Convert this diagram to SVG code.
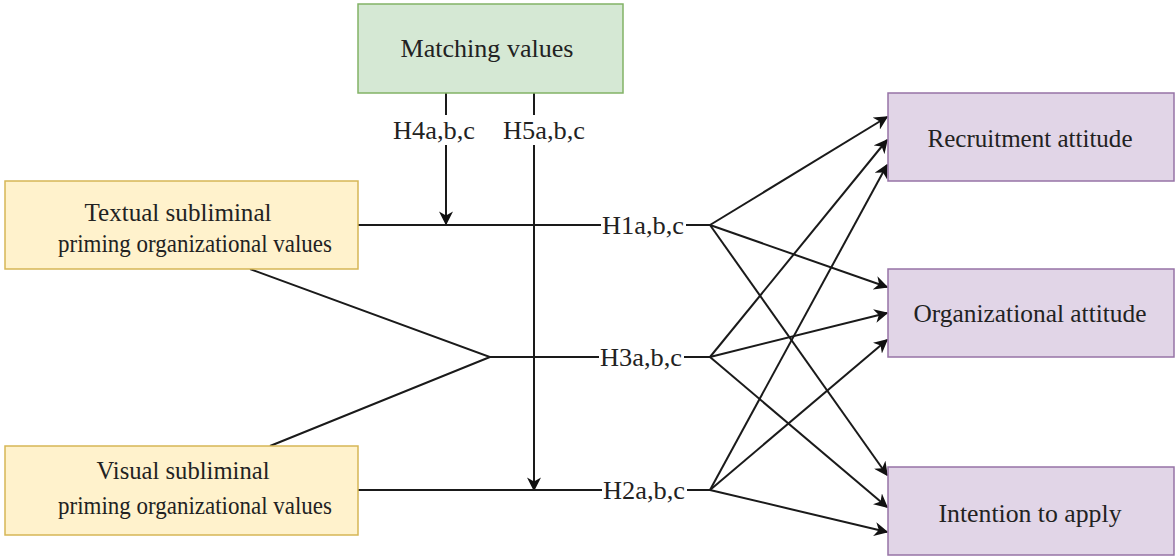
<svg xmlns="http://www.w3.org/2000/svg" width="1176" height="557" viewBox="0 0 1176 557">
<style>
.t{font-family:"Liberation Serif","Times New Roman",serif;font-size:26px;fill:#222;text-anchor:middle}
.l{stroke:#1a1a1a;stroke-width:2;fill:none}
.y{fill:#fff2cc;stroke:#d6b656;stroke-width:1.5}
.g{fill:#d5e8d4;stroke:#82b366;stroke-width:1.5}
.p{fill:#e1d5e7;stroke:#9673a6;stroke-width:1.5}
</style>
<defs>
<marker id="a" viewBox="0 0 10 10" refX="9" refY="5" markerWidth="14" markerHeight="14" markerUnits="userSpaceOnUse" orient="auto">
<path d="M0,0 L10,5 L0,10 L3,5 Z" fill="#111"/>
</marker>
</defs>
<rect width="1176" height="557" fill="#fff"/>
<g id="connectors">
<line class="l" x1="446" y1="93" x2="446" y2="224" marker-end="url(#a)"/>
<line class="l" x1="534" y1="93" x2="534" y2="490" marker-end="url(#a)"/>
<line class="l" x1="358" y1="225" x2="710" y2="225"/>
<polyline class="l" points="250,269 490,357 270,446"/>
<line class="l" x1="490" y1="357" x2="710" y2="357"/>
<line class="l" x1="358" y1="490" x2="710" y2="490"/>
<line class="l" x1="710" y1="225" x2="887" y2="117" marker-end="url(#a)"/>
<line class="l" x1="710" y1="225" x2="887" y2="287" marker-end="url(#a)"/>
<line class="l" x1="710" y1="225" x2="887" y2="475" marker-end="url(#a)"/>
<line class="l" x1="710" y1="357" x2="887" y2="140" marker-end="url(#a)"/>
<line class="l" x1="710" y1="357" x2="887" y2="313" marker-end="url(#a)"/>
<line class="l" x1="710" y1="357" x2="887" y2="507" marker-end="url(#a)"/>
<line class="l" x1="710" y1="490" x2="887" y2="165" marker-end="url(#a)"/>
<line class="l" x1="710" y1="490" x2="887" y2="340" marker-end="url(#a)"/>
<line class="l" x1="710" y1="490" x2="887" y2="532" marker-end="url(#a)"/>
<rect x="392" y="115" width="85" height="30" fill="#fff"/>
<text class="t" x="434" y="139" textLength="82" lengthAdjust="spacingAndGlyphs">H4a,b,c</text>
<rect x="502" y="115" width="85" height="30" fill="#fff"/>
<text class="t" x="544" y="139" textLength="82" lengthAdjust="spacingAndGlyphs">H5a,b,c</text>
<rect x="601" y="210" width="85" height="30" fill="#fff"/>
<text class="t" x="643" y="234" textLength="82" lengthAdjust="spacingAndGlyphs">H1a,b,c</text>
<rect x="599" y="342" width="85" height="30" fill="#fff"/>
<text class="t" x="641" y="366" textLength="82" lengthAdjust="spacingAndGlyphs">H3a,b,c</text>
<rect x="602" y="475" width="85" height="30" fill="#fff"/>
<text class="t" x="644" y="499" textLength="82" lengthAdjust="spacingAndGlyphs">H2a,b,c</text>
</g>
<g id="matching"><rect class="g" x="358" y="4" width="265" height="89"/><text class="t" x="487" y="57" textLength="173" lengthAdjust="spacingAndGlyphs">Matching values</text></g>
<g id="textual"><rect class="y" x="5" y="181" width="353" height="88"/><text class="t" x="178" y="221" textLength="187" lengthAdjust="spacingAndGlyphs">Textual subliminal</text><text class="t" x="195" y="252" textLength="274" lengthAdjust="spacingAndGlyphs">priming organizational values</text></g>
<g id="visual"><rect class="y" x="5" y="446" width="353" height="89"/><text class="t" x="183" y="479" textLength="173" lengthAdjust="spacingAndGlyphs">Visual subliminal</text><text class="t" x="195" y="514" textLength="274" lengthAdjust="spacingAndGlyphs">priming organizational values</text></g>
<g id="recruitment"><rect class="p" x="888" y="93" width="286" height="88"/><text class="t" x="1030" y="147" textLength="205" lengthAdjust="spacingAndGlyphs">Recruitment attitude</text></g>
<g id="organizational"><rect class="p" x="888" y="269" width="286" height="88"/><text class="t" x="1030" y="322" textLength="233" lengthAdjust="spacingAndGlyphs">Organizational attitude</text></g>
<g id="intention"><rect class="p" x="888" y="467" width="286" height="88"/><text class="t" x="1030" y="522" textLength="183" lengthAdjust="spacingAndGlyphs">Intention to apply</text></g>
</svg>
